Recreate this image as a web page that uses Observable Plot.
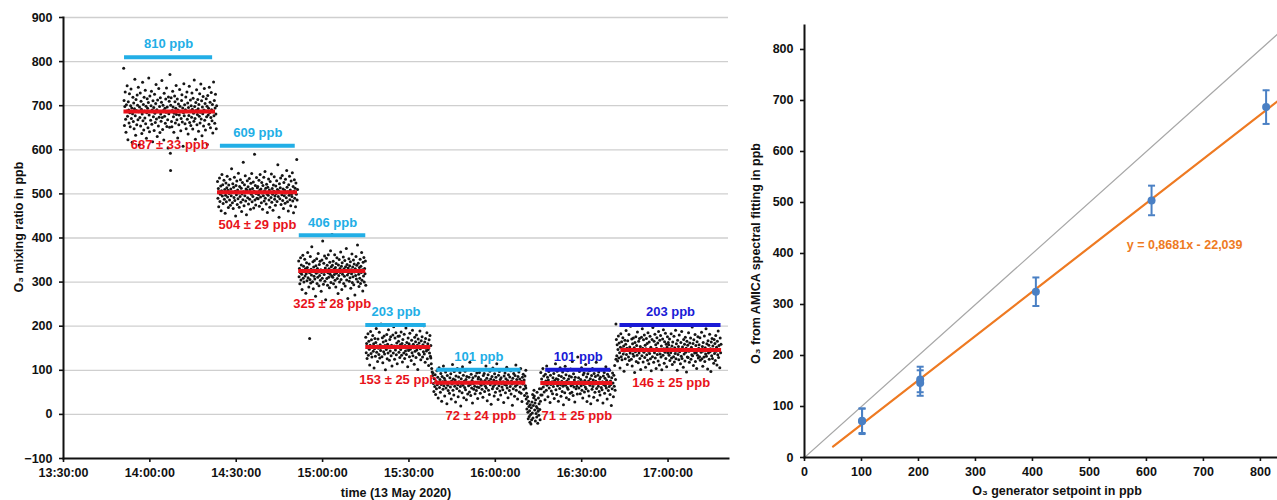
<!DOCTYPE html>
<html><head><meta charset="utf-8">
<script src="https://cdn.jsdelivr.net/npm/d3@7"></script>
<script src="https://cdn.jsdelivr.net/npm/@observablehq/plot@0.6"></script>
<style>
body{margin:0;background:#fff;font-family:"Liberation Sans",Arial,sans-serif;}
#wrap{display:flex;width:1277px;height:500px;overflow:hidden;}
svg{display:block;}
</style></head><body><div id="wrap"></div>
<script>
// ---------- LEFT PANEL DATA (minutes after 13:30:00, 13 May 2020) ----------
const timeTickLabels = ["13:30:00","14:00:00","14:30:00","15:00:00","15:30:00","16:00:00","16:30:00","17:00:00"];
const yTicksLeft = [-100,0,100,200,300,400,500,600,700,800,900];

// plateaus
const setpoints = [810, 609, 406, 203, 101, 101, 203];
const means     = [687, 504, 325, 153, 72, 71, 146];
const sds       = [33, 29, 28, 25, 24, 25, 25];
const runs      = ["A","A","A","A","A","B","B"];
const barStart  = [21.2, 54.5, 81.9, 105.0, 129.7, 167.5, 193.3];
const barEnd    = [51.8, 80.5, 105.0, 126.0, 158.9, 190.1, 228.4];
const meanStart = [21.0, 53.5, 81.7, 105.0, 129.3, 165.8, 193.6];
const meanEnd   = [52.8, 81.3, 105.0, 127.6, 160.6, 190.8, 228.6];

// measured samples (each cloud evenly sampled between its start and end)
const cloudStart = [20.9, 53.5, 81.7, 105.0, 127.6, 160.6, 165.8, 191.9];
const cloudEnd   = [53.2, 81.3, 105.0, 127.6, 160.6, 165.8, 191.9, 228.4];
const cloud1 = [785,712,655,698,731,669,640,702,688,745,676,623,709,690,661,727,684,652,700,738,671,695,617,682,719,664,706,648,693,760,677,633,714,689,657,724,701,668,742,686,611,697,673,729,654,710,692,637,681,753,666,703,645,719,688,672,735,659,699,626,684,716,694,650,707,763,679,641,722,687,667,700,733,658,690,618,711,675,696,644,726,683,662,705,748,670,691,630,713,686,654,739,674,698,639,718,681,665,708,757,673,646,701,689,622,728,676,694,660,715,685,740,653,697,668,604,720,682,710,651,771,592,
  701,718,664,652,689,733,697,675,640,683,722,709,661,694,746,680,668,715,627,690,704,657,679,737,699,686,643,671,712,725,663,695,608,684,750,677,702,659,691,720,648,687,731,669,706,636,696,678,744,662,688,713,655,700,674,729,692,647,717,683,665,758,698,671,624,707,689,736,657,680,714,693,642,703,676,727,661,685,749,670,711,632,697,682,721,654,690,739,667,705,645,688,716,675,699,612,723,679,694,658,742,684,708,650,673,730,691,666,703,638,686,754,677,712,660,695,726,681,648,700];
const cloud2 = [528,490,512,471,505,536,483,499,518,462,507,544,495,521,478,503,531,488,510,456,497,525,482,514,540,493,508,469,520,501,486,533,474,511,496,557,504,480,523,467,515,492,538,485,506,450,519,498,529,476,509,489,547,502,470,517,494,532,481,513,460,500,526,487,572,505,473,521,496,541,484,511,453,508,530,491,516,477,503,535,488,510,465,524,499,546,482,512,494,527,468,506,590,486,519,475,501,537,490,514,
  517,489,498,531,472,508,544,493,511,480,526,502,465,519,496,538,484,507,551,490,513,477,522,500,458,515,497,534,486,509,470,528,503,492,545,481,512,499,463,520,506,539,488,495,474,518,501,530,483,510,566,494,507,447,523,489,514,536,476,503,498,542,485,511,467,526,496,508,479,533,502,491,553,515,482,505,461,521,497,540,487,509,473,529,500,494,548,484,517,457,506,532,490,513,471,525,499,578,486,510];
const cloud3 = [348,312,331,296,322,355,305,339,318,283,327,361,309,336,300,324,352,314,330,275,319,344,303,333,367,310,326,289,341,321,306,358,298,329,316,380,324,301,346,285,334,313,349,307,327,268,337,320,353,297,331,311,365,323,292,340,315,347,304,328,279,322,350,309,393,326,295,343,317,359,302,332,260,325,354,308,338,293,321,362,311,330,287,345,318,371,299,335,314,408,
  338,311,347,296,329,317,362,304,333,289,342,320,355,308,327,274,339,315,351,300,331,322,368,306,336,283,344,318,326,357,297,330,313,349,291,335,324,376,305,340,316,263,332,321,353,302,337,310,346,286,328,319,364,299,334,312,350,294,341,323,271,330,315,358,307,338,326,384,301,343,318,290,333,309,352,297,336,322,367,304,328,280,345,314,356,300,331,319,348,293];
const cloud4 = [175,140,161,127,152,183,134,166,148,112,157,188,138,169,130,154,179,143,160,105,149,172,132,163,195,141,155,120,171,150,136,186,128,158,145,205,153,131,174,117,164,142,178,137,156,101,167,147,181,126,159,139,192,151,123,170,144,176,133,157,110,152,180,139,199,155,125,173,146,185,135,162,115,154,177,
  166,141,178,129,158,147,187,134,161,119,170,152,139,182,127,156,144,196,136,163,150,108,173,145,160,131,184,148,155,122,168,140,191,133,159,151,114,175,143,165,129,180,146,157,102,171,138,162,135,189,149,124,167,154,176,130,158,142,201,137,164,118,172,150,144,185,126,160,147,111,169,139,179,132,156];
const cloud5 = [128,115,104,96,88,94,70,52,81,63,90,45,75,58,99,67,84,37,72,106,61,79,50,93,68,30,86,74,57,110,65,82,42,77,96,60,71,24,88,66,54,101,73,48,83,62,92,35,76,69,113,55,80,44,97,64,78,28,87,71,59,104,67,40,85,74,53,95,63,19,81,70,49,108,66,89,38,75,61,98,56,79,33,86,72,46,102,65,84,51,118,68,43,91,60,77,26,83,70,57,100,64,47,87,73,54,94,62,36,80,
  84,61,95,70,48,79,66,102,57,74,39,88,69,93,52,77,64,110,60,82,31,71,90,55,76,45,98,67,80,23,73,86,58,105,63,78,42,92,68,50,84,75,115,59,71,34,89,65,97,53,79,44,83,70,62,101,56,74,27,87,68,94,49,81,66,107,60,77,38,90,72,54,85,63,99,46,76,69,21,82,58,93,71,41,88,64,112,55,79,67,35,86,73,96,51,80,62,104,48,75,29,84,69,91,57,78,43,87,65,100];
const cloud6 = [60,35,48,12,25,40,5,-10,30,18,-5,8,-18,22,0,-22,15,-12,28,3,45,-8,20,38,55,42,10,26,-15,33,2,18,-6,50,14,-20,7,37,-2,24,58,11,-12,30,44];
const cloud7 = [95,58,80,44,73,104,62,87,51,69,33,91,76,55,110,66,84,40,78,97,60,72,27,89,68,53,102,74,47,83,63,93,36,77,70,115,56,81,45,98,65,79,30,88,71,59,106,67,41,86,75,52,96,64,22,82,69,49,109,66,90,38,76,61,99,57,80,34,87,73,48,103,65,85,50,120,68,43,92,62,78,28,84,71,58,101,64,46,130,74,
  83,60,97,72,47,79,65,106,55,74,37,90,68,94,51,77,62,113,58,85,29,70,92,53,76,42,99,66,81,24,73,88,57,104,63,78,39,93,69,50,86,75,118,59,71,32,89,64,96,52,80,44,84,70,61,101,56,74,26,87,67,95,48,82,65,108,60,77,35,91,72,54,86,63,100,45,76,68,20,83,58,94,71,40,89,64,111,55,79,125];
const cloud8 = [205,170,133,158,121,147,178,128,162,140,105,152,183,131,165,124,149,174,137,155,98,144,168,126,159,190,136,150,113,167,145,130,181,122,153,139,200,148,125,171,110,160,137,173,132,151,95,163,142,176,120,156,134,187,146,117,166,139,172,127,154,102,147,175,133,194,150,119,169,141,180,129,157,107,149,172,135,161,123,185,143,115,164,138,177,126,152,99,145,170,131,197,148,118,166,140,182,128,158,104,150,174,136,162,121,188,144,112,168,137,179,130,155,101,146,171,134,192,149,116,165,141,184,127,159,108,152,176,139,163,
  158,134,171,122,149,140,183,128,155,113,164,146,131,177,119,151,138,191,126,160,144,100,168,136,154,124,180,142,148,115,163,132,188,127,153,145,107,170,137,159,121,175,141,150,96,166,130,157,129,185,143,118,162,147,173,125,152,135,198,133,161,111,169,145,139,181,120,156,140,104,165,134,176,128,150,158,131,174,123,147,141,186,126,154,109,163,144,130,178,120,151,137,194,132,160,145,103,167,139,157,125,182,142,149,97,164,133,172,127,155,146,116,170,138,161,122,179,143,152,112,166,135,189,129,156,148,106,173,140,159];
const outlierTimes  = [37.2, 85.5];
const outlierValues = [553, 172];

// ---------- RIGHT PANEL DATA ----------
const genSetpoint = [810, 609, 406, 203, 203, 101, 101];
const amicaMean   = [687, 504, 325, 153, 146, 72, 71];
const amicaSd     = [33, 29, 28, 25, 25, 24, 25];
const fitSlope = 0.8681, fitIntercept = -22.039;
const fitLabel = "y = 0,8681x - 22,039";
const fitRange = [50, 830];
const xyTicks = [0,100,200,300,400,500,600,700,800];

// ---------- BUILD ----------
const base = Date.UTC(2020, 4, 13, 13, 30);
const at = m => new Date(base + m * 60000);
const tickDates = timeTickLabels.map(s => new Date(`2020-05-13T${s}Z`));

const clouds = [cloud1, cloud2, cloud3, cloud4, cloud5, cloud6, cloud7, cloud8];
const samples = [];
clouds.forEach((vals, k) => {
  const n = vals.length, a = cloudStart[k], b = cloudEnd[k];
  vals.forEach((v, i) => samples.push({t: at(a + (b - a) * i / (n - 1)), v}));
});
outlierTimes.forEach((m, i) => samples.push({t: at(m), v: outlierValues[i]}));

const plateaus = setpoints.map((s, i) => ({
  setpoint: s, mean: means[i], sd: sds[i], run: runs[i],
  b1: at(barStart[i]), b2: at(barEnd[i]), bm: at((barStart[i] + barEnd[i]) / 2),
  m1: at(meanStart[i]), m2: at(meanEnd[i]), mm: at((meanStart[i] + meanEnd[i]) / 2)
}));

const LIGHT = "#22aee6", DARK = "#1a1ad6", RED = "#e8131b";
const runColor = d => d.run === "A" ? LIGHT : DARK;
const font = "Liberation Sans, Arial, sans-serif";

const left = Plot.plot({
  width: 740, height: 500,
  marginLeft: 63, marginRight: 12, marginTop: 17, marginBottom: 42,
  style: {fontFamily: font, fontSize: "12.5px", fontWeight: "bold", color: "#111", background: "#fff", overflow: "visible"},
  x: {type: "utc", domain: [at(0), at(231)]},
  y: {domain: [-100, 900]},
  marks: [
    Plot.ruleY(yTicksLeft.slice(1), {stroke: "#cfcfcf", strokeWidth: 1.3}),
    Plot.dot(samples, {x: "t", y: "v", r: 1.5, fill: "#151515", stroke: null}),
    Plot.ruleY(plateaus, {y: "setpoint", x1: "b1", x2: "b2", stroke: runColor, strokeWidth: 4}),
    Plot.ruleY(plateaus, {y: "mean", x1: "m1", x2: "m2", stroke: RED, strokeWidth: 4}),
    Plot.text(plateaus, {x: "bm", y: "setpoint", text: d => `${d.setpoint} ppb`, dy: -13, fill: runColor, fontSize: 13, fontWeight: "bold"}),
    Plot.text(plateaus, {x: "mm", y: "mean", text: d => `${d.mean} ± ${d.sd} ppb`, dy: 33, fill: RED, fontSize: 13, fontWeight: "bold"}),
    Plot.axisY(yTicksLeft, {tickSize: 4, tickPadding: 7, strokeWidth: 1.6, label: null}),
    Plot.axisX(tickDates, {tickSize: 4, tickPadding: 6, strokeWidth: 1.6, label: null, tickFormat: (d, i) => timeTickLabels[i]}),
    Plot.frame({anchor: "left", stroke: "#111", strokeWidth: 2}),
    Plot.frame({anchor: "bottom", stroke: "#111", strokeWidth: 2}),
    Plot.text(["time (13 May 2020)"], {text: d => d, frameAnchor: "bottom", textAnchor: "middle", lineAnchor: "middle", dy: 34, fontSize: 12.5, fontWeight: "bold", fill: "#111"}),
    Plot.text(["O₃ mixing ratio in ppb"], {text: d => d, frameAnchor: "left", textAnchor: "middle", lineAnchor: "middle", dx: -45, dy: -11, rotate: -90, fontSize: 12.5, fontWeight: "bold", fill: "#111"})
  ]
});

const pts = genSetpoint.map((x, i) => ({x, y: amicaMean[i], lo: amicaMean[i] - amicaSd[i], hi: amicaMean[i] + amicaSd[i]}));
const identity = [0, 900].map(v => ({x: v, y: v}));
const fit = fitRange.map(x => ({x, y: fitSlope * x + fitIntercept}));
const cap = {draw(ctx, size) { const w = Math.sqrt(size / Math.PI); ctx.moveTo(-w, 0); ctx.lineTo(w, 0); }};
const BLUE = "#4a80c4", ORANGE = "#ee7a22";

const right = Plot.plot({
  width: 537, height: 500,
  marginLeft: 64, marginRight: 0, marginTop: 25, marginBottom: 43,
  style: {fontFamily: font, fontSize: "12.5px", fontWeight: "bold", color: "#111", background: "#fff", overflow: "visible"},
  x: {domain: [0, 830]},
  y: {domain: [0, 847]},
  marks: [
    Plot.line(identity, {x: "x", y: "y", stroke: "#a8a8a8", strokeWidth: 1.2, clip: true}),
    Plot.line(fit, {x: "x", y: "y", stroke: ORANGE, strokeWidth: 2.2, clip: true}),
    Plot.ruleX(pts, {x: "x", y1: "lo", y2: "hi", stroke: BLUE, strokeWidth: 2}),
    Plot.dot(pts, {x: "x", y: "lo", symbol: cap, r: 3.5, stroke: BLUE, fill: "none", strokeWidth: 2}),
    Plot.dot(pts, {x: "x", y: "hi", symbol: cap, r: 3.5, stroke: BLUE, fill: "none", strokeWidth: 2}),
    Plot.dot(pts, {x: "x", y: "y", r: 4, fill: BLUE, stroke: null}),
    Plot.text([fitLabel], {text: d => d, x: 667, y: 416, fill: ORANGE, fontSize: 12.5, fontWeight: "bold"}),
    Plot.axisY(xyTicks, {tickSize: 4, tickPadding: 7, strokeWidth: 1.6, label: null}),
    Plot.axisX(xyTicks, {tickSize: 4, tickPadding: 6, strokeWidth: 1.6, label: null}),
    Plot.frame({anchor: "left", stroke: "#111", strokeWidth: 2}),
    Plot.frame({anchor: "bottom", stroke: "#111", strokeWidth: 2}),
    Plot.text(["O₃ generator setpoint in ppb"], {text: d => d, frameAnchor: "bottom", textAnchor: "middle", lineAnchor: "middle", dx: 16, dy: 33, fontSize: 12.5, fontWeight: "bold", fill: "#111"}),
    Plot.text(["O₃ from AMICA spectral fitting in ppb"], {text: d => d, frameAnchor: "left", textAnchor: "middle", lineAnchor: "middle", dx: -49, dy: 12, rotate: -90, fontSize: 12.5, fontWeight: "bold", fill: "#111"})
  ]
});

document.getElementById("wrap").append(left, right);
</script></body></html>
